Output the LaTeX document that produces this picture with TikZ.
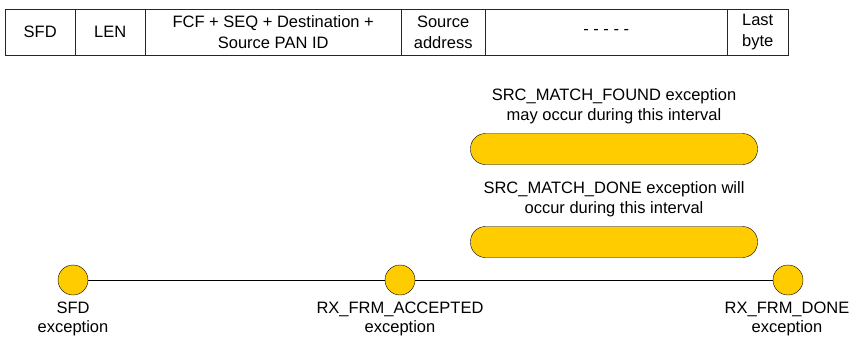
\documentclass[tikz,border=0pt]{standalone}
\usepackage{fontspec}
\setmainfont{Liberation Sans}
\usepackage{xcolor}
\usetikzlibrary{positioning}
\definecolor{eventyellow}{HTML}{FFCC00}

\begin{document}
\begin{tikzpicture}[x=1pt,y=-1pt]

    % --- Global Settings ---
    \tikzset{
        fieldcell/.style={draw=black!85, thin, anchor=north west, minimum height=46pt,
            inner sep=0pt, align=center, font=\fontsize{16.5}{20.5}\selectfont},
        intervalbar/.style={draw=black, thin, fill=eventyellow, rounded corners=15pt,
            minimum height=31pt, inner sep=0pt},
        intervaltext/.style={align=center, font=\fontsize{16.5}{20.5}\selectfont},
        eventdot/.style={circle, draw=black, thin, fill=eventyellow, minimum size=30pt, inner sep=0pt},
        eventtext/.style={align=center, font=\fontsize{16.5}{18.5}\selectfont, inner sep=0pt}
    }

    \useasboundingbox (0,0) rectangle (851,338);

    % --- Frame fields ---
    \foreach \x/\w/\name/\txt in {5/70/sfdf/SFD, 75/70/lenf/LEN,
        145/256/fcff/{FCF + SEQ + Destination +\\Source PAN ID},
        401/84/srcf/{Source\\address}, 485/242/dotsf/{- - - - -},
        727/61/lastf/{Last\\byte}} {
        \node[fieldcell, minimum width=\w pt] (\name) at (\x,9) {\txt};
    }

    % --- Intervals ---
    \node[intervaltext] (foundtxt) at (614,106) {SRC\_MATCH\_FOUND exception\\may occur during this interval};
    \node[intervaltext] (donetxt) at (614,199) {SRC\_MATCH\_DONE exception will\\occur during this interval};
    \node[intervalbar, minimum width=287pt] (foundbar) at (614,149) {};
    \node[intervalbar, minimum width=287pt] (donebar) at (614,242) {};

    % --- Timeline ---
    \node[eventdot] (sfd) at (73,280) {};
    \node[eventdot] (acc) at (400,280) {};
    \node[eventdot] (done) at (788,280) {};
    \draw[thin] (sfd) -- (acc);
    \draw[thin] (acc) -- (done);

    \node[eventtext, below=7pt of sfd] (sfdlbl) {SFD\\exception};
    \node[eventtext, below=7pt of acc] (acclbl) {RX\_FRM\_ACCEPTED\\exception};
    \node[eventtext, below=7pt of done, xshift=-1pt] (donelbl) {RX\_FRM\_DONE\\exception};

\end{tikzpicture}
\end{document}
